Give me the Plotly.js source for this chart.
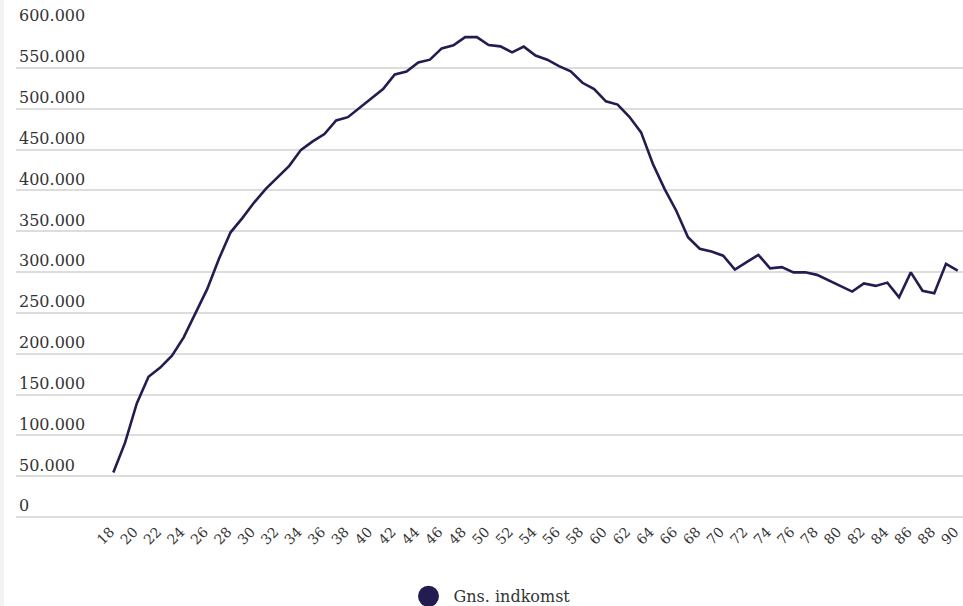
<!DOCTYPE html>
<html>
<head>
<meta charset="utf-8">
<script src="https://cdn.plot.ly/plotly-3.0.1.min.js"></script>
<style>
  html, body { margin: 0; padding: 0; background: #f2f2f2; }
  #chart { position: absolute; left: 4px; top: 0; width: 959px; height: 606px; background: #fff; }
</style>
</head>
<body>
<div id="chart"></div>
<script>
// Ages 18–90
const ages = [18,19,20,21,22,23,24,25,26,27,28,29,30,31,32,33,34,35,36,37,38,39,40,41,42,43,44,45,46,47,48,49,50,51,52,53,54,55,56,57,58,59,60,61,62,63,64,65,66,67,68,69,70,71,72,73,74,75,76,77,78,79,80,81,82,83,84,85,86,87,88,89,90];
// Gennemsnitlig indkomst (kr.)
const income = [54500,91000,139000,171800,183000,197600,220000,249000,279000,316000,348600,366000,385000,401800,416000,430000,449600,460000,469000,485500,489600,501000,513000,524000,542000,545600,556600,560000,573800,577500,587600,587600,578000,576300,569000,576000,565000,560000,552000,545600,531700,524000,509000,505000,490000,471000,432500,401800,375000,342500,328500,325000,320000,303000,312000,321000,304500,306000,299600,299600,296500,289500,283000,276000,286000,283000,287000,269000,299600,277000,274000,310000,301700];
const seriesName = "Gns. indkomst";
// x tick labels: every second age
const xTicks = [18,20,22,24,26,28,30,32,34,36,38,40,42,44,46,48,50,52,54,56,58,60,62,64,66,68,70,72,74,76,78,80,82,84,86,88,90];
const yTicks = [0,50000,100000,150000,200000,250000,300000,350000,400000,450000,500000,550000,600000];

const color = "#221c50";
const fontFam = "'DejaVu Serif', 'Liberation Serif', serif";

const traces = [
  {
    x: ages, y: income, type: "scatter", mode: "lines",
    line: { color: color, width: 2.6 },
    showlegend: false, hoverinfo: "x+y"
  },
  {
    x: [null], y: [null], type: "scatter", mode: "markers", name: seriesName,
    marker: { color: color, size: 16, line: { color: color, width: 5 } },
    showlegend: true, hoverinfo: "skip"
  }
];

const layout = {
  width: 959, height: 606,
  margin: { l: 12, r: 0, t: 27, b: 89, autoexpand: false },
  paper_bgcolor: "#ffffff", plot_bgcolor: "#ffffff",
  separators: ",.",
  font: { family: fontFam, color: "#333333" },
  xaxis: {
    type: "linear", range: [9.70, 90.45], automargin: false,
    tickmode: "array", tickvals: xTicks, ticktext: xTicks.map(String),
    tickangle: -45, showgrid: false, zeroline: false, showline: false,
    ticks: "", ticklabelstandoff: 3, ticklabelshift: -3, ticklabeloverflow: "allow",
    tickfont: { family: fontFam, size: 14, color: "#333333" }
  },
  yaxis: {
    range: [0, 600000], automargin: false,
    tickmode: "array", tickvals: yTicks,
    tickformat: ",d",
    showgrid: true, gridcolor: "#dddddd", gridwidth: 1.5,
    zeroline: true, zerolinecolor: "#dddddd", zerolinewidth: 1.5,
    showline: false, ticks: "",
    ticklabelposition: "inside top", ticklabeloverflow: "allow",
    tickfont: { family: fontFam, size: 16, color: "#333333" }
  },
  showlegend: true,
  legend: {
    orientation: "h", x: 0.5, xanchor: "center",
    yref: "container", y: 0.016, yanchor: "middle",
    itemwidth: 40,
    font: { family: fontFam, size: 16, color: "#333333" },
    bgcolor: "rgba(0,0,0,0)"
  },
  hovermode: "closest"
};

Plotly.newPlot("chart", traces, layout, { displayModeBar: false, responsive: false });
</script>
</body>
</html>
